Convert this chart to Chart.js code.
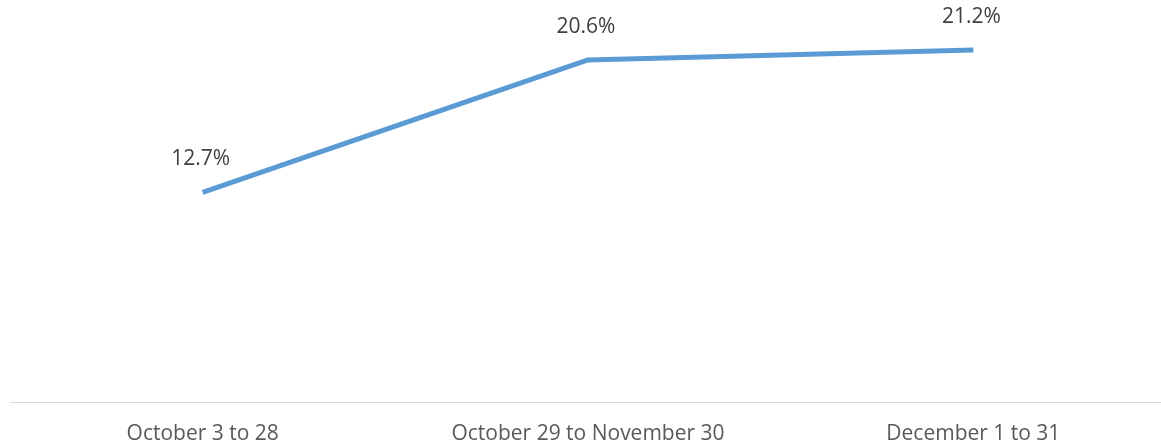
<!DOCTYPE html>
<html>
<head>
<meta charset="utf-8">
<script src="https://cdn.jsdelivr.net/npm/chart.js@4.4.1/dist/chart.umd.min.js"></script>
<style>
  html, body { margin: 0; padding: 0; background: #ffffff; overflow: hidden; }
  #wrap { width: 1166px; height: 447px; position: relative; }
</style>
</head>
<body>
<div id="wrap"><canvas id="chart"></canvas></div>
<script>
// Share of respondents per period (%)
const periods = ['October 3 to 28', 'October 29 to November 30', 'December 1 to 31'];
const shares = [12.7, 20.6, 21.2];

// Writes each point's value above it
const valueLabels = {
  id: 'valueLabels',
  afterDatasetsDraw(chart) {
    const ctx = chart.ctx;
    const meta = chart.getDatasetMeta(0);
    ctx.save();
    ctx.font = '21px "Open Sans", "Noto Sans", sans-serif';
    ctx.fillStyle = '#404040';
    ctx.textAlign = 'center';
    ctx.textBaseline = 'middle';
    meta.data.forEach((pt, i) => {
      const v = chart.data.datasets[0].data[i];
      ctx.fillText(v.toFixed(1) + '%', pt.x - 2, pt.y - 33);
    });
    ctx.restore();
  }
};

new Chart(document.getElementById('chart'), {
  type: 'line',
  data: {
    labels: periods,
    datasets: [{
      data: shares,
      borderColor: '#5b9bd5',
      borderWidth: 5,
      pointRadius: 0,
      tension: 0,
      borderCapStyle: 'butt',
      borderJoinStyle: 'round',
      fill: false
    }]
  },
  options: {
    responsive: true,
    maintainAspectRatio: false,
    animation: false,
    layout: { padding: { left: 10, right: 0, top: 3, bottom: -19 } },
    plugins: { legend: { display: false }, tooltip: { enabled: false } },
    scales: {
      x: {
        offset: true,
        grid: { display: false, drawTicks: false },
        border: { display: true, color: '#d9d9d9', width: 1 },
        ticks: {
          color: '#595959',
          padding: 19,
          font: { size: 21, family: '"Open Sans", "Noto Sans", sans-serif' }
        }
      },
      y: {
        display: false,
        min: 0.13,
        max: 24
      }
    }
  },
  plugins: [valueLabels]
});
</script>
</body>
</html>
